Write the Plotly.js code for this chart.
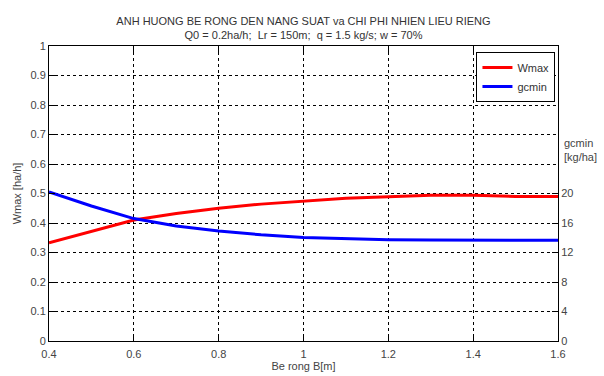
<!DOCTYPE html>
<html><head><meta charset="utf-8">
<script src="https://cdn.plot.ly/plotly-3.0.1.min.js"></script>
<style>html,body{margin:0;padding:0;background:#fff}#c{width:604px;height:376px}</style>
</head><body><div id="c"></div>
<script>
const B = [0.4, 0.5, 0.6, 0.7, 0.8, 0.9, 1.0, 1.1, 1.2, 1.3, 1.4, 1.5, 1.6];
const Wmax = [0.333, 0.372, 0.41, 0.432, 0.45, 0.464, 0.475, 0.484, 0.489, 0.494, 0.494, 0.49, 0.49];
const gcmin = [20.2, 18.3, 16.6, 15.6, 14.9, 14.4, 14.05, 13.9, 13.72, 13.68, 13.66, 13.66, 13.66];
const leftTicks = [0, 0.1, 0.2, 0.3, 0.4, 0.5, 0.6, 0.7, 0.8, 0.9, 1];
const rightTicks = [0, 4, 8, 12, 16, 20];
const xTicks = [0.4, 0.6, 0.8, 1, 1.2, 1.4, 1.6];

const font = {family: 'Liberation Sans, Arial, sans-serif', size: 11, color: '#444'};
const data = [
  {x: B, y: Wmax, name: 'Wmax', type: 'scatter', mode: 'lines', line: {color: '#ff0000', width: 3}},
  {x: B, y: gcmin, name: 'gcmin', type: 'scatter', mode: 'lines', yaxis: 'y2', line: {color: '#0000ff', width: 3}}
];
const layout = {
  width: 604, height: 376,
  margin: {l: 49, r: 46, t: 46, b: 35},
  paper_bgcolor: '#fff', plot_bgcolor: '#fff',
  font: font,
  title: {text: 'ANH HUONG BE RONG DEN NANG SUAT va CHI PHI NHIEN LIEU RIENG<br>Q0 = 0.2ha/h;  Lr = 150m;  q = 1.5 kg/s; w = 70%',
          font: {family: 'Liberation Sans, Arial, sans-serif', size: 11, color: '#333'},
          x: 0.5, xref: 'paper', yref: 'container', y: 0.934, yanchor: 'middle'},
  xaxis: {range: [0.4, 1.6], tickvals: xTicks, ticktext: xTicks.map(String),
          showgrid: true, gridcolor: '#000', griddash: '3px,3px', gridwidth: 1,
          ticks: 'inside', ticklen: 6, tickcolor: '#000', showline: true, linecolor: '#000', linewidth: 1, mirror: 'ticks',
          ticklabelstandoff: 3,
          zeroline: false, title: {text: 'Be rong B[m]', standoff: 2, font: font}},
  yaxis: {range: [0, 1], tickvals: leftTicks, ticktext: leftTicks.map(String),
          showgrid: true, gridcolor: '#000', griddash: '3px,3px', gridwidth: 1,
          ticks: 'inside', ticklen: 6, tickcolor: '#000', showline: true, linecolor: '#000', linewidth: 1, mirror: true,
          zeroline: false, title: {text: 'Wmax [ha/h]', standoff: 6, font: font}},
  yaxis2: {range: [0, 40], tickvals: rightTicks, ticktext: rightTicks.map(String), overlaying: 'y', side: 'right',
          showgrid: false, ticks: 'inside', ticklen: 6, tickcolor: '#000', showline: true, linecolor: '#000', zeroline: false},
  showlegend: true,
  legend: {x: 0.995, xanchor: 'right', y: 0.98, yanchor: 'top', bgcolor: '#fff', bordercolor: '#000', borderwidth: 1,
           font: {family: 'Liberation Sans, Arial, sans-serif', size: 11, color: '#333'}, tracegroupgap: 0},
  annotations: [{text: 'gcmin<br>[kg/ha]', xref: 'paper', yref: 'paper', x: 1, y: 0.647, xanchor: 'left', yanchor: 'middle',
                 xshift: 4, showarrow: false, align: 'left', font: font}]
};
Plotly.newPlot('c', data, layout, {displayModeBar: false, staticPlot: true});
</script></body></html>
